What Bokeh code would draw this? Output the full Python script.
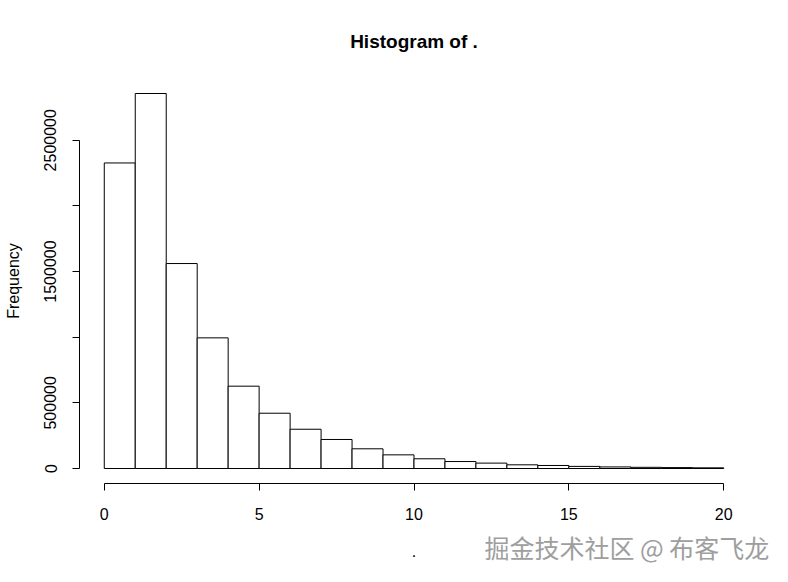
import math
from bokeh.plotting import figure
from bokeh.models import Title, FixedTicker, Range1d
from bokeh.embed import file_html
from bokeh.resources import INLINE

# histogram data (bins of width 1 from 0 to 20)
bin_left = list(range(0, 20))
bin_right = list(range(1, 21))
counts = [2327000, 2856000, 1561000, 995000, 627000, 421000, 299000, 221000,
          150000, 104000, 74000, 53000, 41000, 28000, 23000, 16000, 12000,
          9000, 7000, 5000]

x_ticks = [0, 5, 10, 15, 20]
y_ticks = [0, 500000, 1000000, 1500000, 2000000, 2500000]
y_tick_labels = {0: "0", 500000: "500000", 1000000: "", 1500000: "1500000",
                 2000000: "", 2500000: "2500000"}

title_text = "Histogram of ."
x_label = "."
y_label = "Frequency"
watermark = "掘金技术社区 @ 布客飞龙"

FONT = "Liberation Sans"

xmin, xmax = 0, 20
ymax = max(counts)
xpad = 0.04 * (xmax - xmin)
ypad = 0.04 * ymax

p = figure(width=780, height=574, output_backend="svg", toolbar_location=None,
           x_range=Range1d(xmin - xpad, xmax + xpad),
           y_range=Range1d(-ypad, ymax + ypad),
           min_border_left=79, min_border_right=32, min_border_top=78,
           min_border_bottom=91)

p.quad(left=bin_left, right=bin_right, bottom=0, top=counts,
       fill_color="white", line_color="black", line_width=1)

p.outline_line_color = None
p.grid.visible = False
p.background_fill_color = "white"
p.border_fill_color = "white"

# title
p.title.text = title_text
p.title.align = "center"
p.title.text_font = FONT
p.title.text_font_size = "19px"
p.title.text_font_style = "bold"
p.title.text_color = "black"
p.title.standoff = 54

for ax in (p.xaxis[0], p.yaxis[0]):
    ax.axis_line_color = "black"
    ax.major_tick_line_color = "black"
    ax.minor_tick_line_color = None
    ax.major_tick_in = 0
    ax.major_tick_out = 7
    ax.major_label_text_font = FONT
    ax.major_label_text_font_size = "16px"
    ax.major_label_text_color = "black"
    ax.axis_label_text_font = FONT
    ax.axis_label_text_font_size = "16px"
    ax.axis_label_text_font_style = "normal"
    ax.axis_label_text_color = "black"

p.xaxis.ticker = FixedTicker(ticks=x_ticks)
p.xaxis.bounds = (xmin, xmax)
p.xaxis.axis_label = x_label
p.xaxis.major_label_standoff = 17
p.xaxis.axis_label_standoff = 22

p.yaxis.ticker = FixedTicker(ticks=y_ticks)
p.yaxis.major_label_overrides = {k: v for k, v in y_tick_labels.items()}
p.yaxis.bounds = (0, 2500000)
p.yaxis.axis_label = y_label
p.yaxis.major_label_orientation = "vertical"
p.yaxis.major_label_standoff = 16
p.yaxis.axis_label_standoff = 20

# watermark, placed in the lower side panel
wm = Title(text=watermark, align="left", offset=405, standoff=-62,
           vertical_align="top", text_font="Noto Sans CJK SC",
           text_font_size="25px", text_font_style="normal",
           text_color="#9e9e9e")
p.add_layout(wm, "below")

open("out.html", "w").write(file_html(p, INLINE))
